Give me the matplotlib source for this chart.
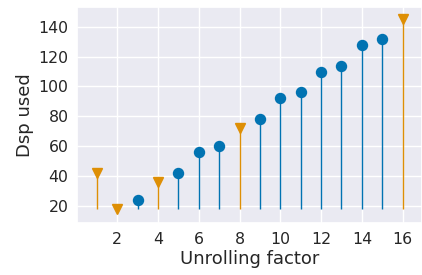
import matplotlib
matplotlib.use("Agg")
import matplotlib.pyplot as plt
import seaborn as sns

# unrolling factor vs DSPs used; powers of two drawn as orange triangles
factors = [1, 2, 3, 4, 5, 6, 7, 8, 9, 10, 11, 12, 13, 14, 15, 16]
dsp_used = [42, 18, 24, 36, 42, 56, 60, 72, 78, 92, 96, 110, 114, 128, 132, 145]
baseline = 18
pow2 = [1, 2, 4, 8, 16]

sns.set_theme(style="darkgrid")
plt.rcParams["font.family"] = ["DejaVu Sans"]

blue = "#0173b2"
orange = "#de8f05"

fig = plt.figure(figsize=(4.22, 2.75), dpi=100)
ax = fig.add_axes([0.183, 0.188, 0.817, 0.785])

xs_p = [x for x in factors if x in pow2]
ys_p = [y for x, y in zip(factors, dsp_used) if x in pow2]
xs_o = [x for x in factors if x not in pow2]
ys_o = [y for x, y in zip(factors, dsp_used) if x not in pow2]

ax.vlines(xs_o, baseline, ys_o, color=blue, linewidth=1.0)
ax.vlines(xs_p, baseline, ys_p, color=orange, linewidth=1.0)
ax.plot(xs_o, ys_o, "o", color=blue, markersize=7.2, linestyle="none")
ax.plot(xs_p, ys_p, "v", color=orange, markersize=7.8, linestyle="none")

ax.set_xlim(0.04, 16.95)
ax.set_ylim(8.2, 153)
ax.set_xticks([2, 4, 6, 8, 10, 12, 14, 16])
ax.set_yticks([20, 40, 60, 80, 100, 120, 140])
ax.tick_params(labelsize=11.3, length=0, pad=6.3)
ax.set_xlabel("Unrolling factor", fontsize=13, labelpad=2)
ax.set_ylabel("Dsp used", fontsize=13, labelpad=3)

fig.savefig("out.png", dpi=100)
